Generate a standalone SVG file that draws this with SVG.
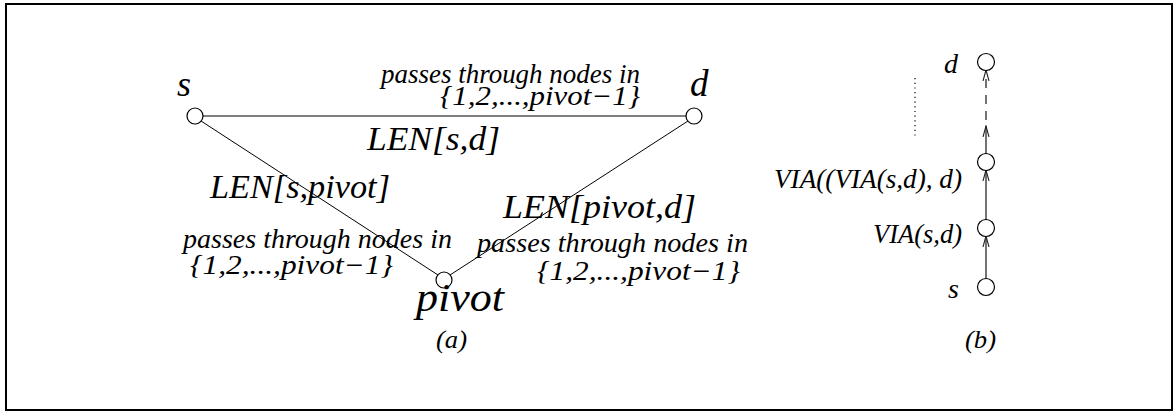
<svg xmlns="http://www.w3.org/2000/svg" width="1173" height="411" viewBox="0 0 1173 411">
<defs>
<style>
.n{fill:#fff;stroke:#000;stroke-width:1.2}
.e{stroke:#000;stroke-width:1;fill:none}
.a{stroke:#444;stroke-width:1.5;fill:none}
</style>
<marker id="arr" markerWidth="12" markerHeight="8" refX="11" refY="4" orient="auto" markerUnits="userSpaceOnUse">
<path d="M0,1 L11,4 L0,7" fill="none" stroke="#222" stroke-width="1.1"/>
</marker>
</defs>
<rect x="6" y="4" width="1166" height="406" fill="#fff" stroke="#000" stroke-width="2"/>
<g id="connectors">
<line class="e" x1="203" y1="116" x2="686" y2="116"/>
<line class="e" x1="201" y1="121" x2="438" y2="275"/>
<line class="e" x1="688" y1="121" x2="450" y2="275"/>
<line class="a" x1="986" y1="279" x2="986" y2="236" marker-end="url(#arr)"/>
<line class="a" x1="986" y1="220" x2="986" y2="170" marker-end="url(#arr)"/>
<line class="a" x1="986" y1="154" x2="986" y2="126" marker-end="url(#arr)"/>
<line class="a" x1="986" y1="120" x2="986" y2="70" stroke-dasharray="9,7" marker-end="url(#arr)"/>
<line x1="915" y1="78" x2="915" y2="138" stroke="#000" stroke-width="1.2" stroke-dasharray="1.2,3.5"/>
</g>
<g font-family="Liberation Serif" font-style="italic" fill="#000">
<g id="node-s">
<circle class="n" cx="195" cy="116" r="8"/>
<text x="177" y="96" font-size="36">s</text>
</g>
<g id="node-d">
<circle class="n" cx="694" cy="116" r="8"/>
<text x="690" y="96" font-size="37">d</text>
</g>
<g id="node-pivot">
<circle class="n" cx="444" cy="280" r="8"/>
<text x="416" y="311" font-size="40" textLength="88" lengthAdjust="spacingAndGlyphs">pivot</text>
</g>
<g id="labels-a">
<text x="381" y="83" font-size="27" textLength="259" lengthAdjust="spacingAndGlyphs">passes through nodes in</text>
<text x="440" y="105" font-size="27" textLength="200" lengthAdjust="spacingAndGlyphs">{1,2,...,pivot−1}</text>
<text x="367" y="150" font-size="34" textLength="133" lengthAdjust="spacingAndGlyphs">LEN[s,d]</text>
<text x="210" y="198" font-size="34" textLength="180" lengthAdjust="spacingAndGlyphs">LEN[s,pivot]</text>
<text x="503" y="218" font-size="34" textLength="193" lengthAdjust="spacingAndGlyphs">LEN[pivot,d]</text>
<text x="183" y="248" font-size="27" textLength="269" lengthAdjust="spacingAndGlyphs">passes through nodes in</text>
<text x="190" y="274" font-size="27" textLength="203" lengthAdjust="spacingAndGlyphs">{1,2,...,pivot−1}</text>
<text x="477" y="252" font-size="27" textLength="271" lengthAdjust="spacingAndGlyphs">passes through nodes in</text>
<text x="537" y="280" font-size="27" textLength="203" lengthAdjust="spacingAndGlyphs">{1,2,...,pivot−1}</text>
<text x="436" y="348" font-size="26" textLength="31" lengthAdjust="spacingAndGlyphs">(a)</text>
</g>
<g id="node-b-d">
<circle class="n" cx="986" cy="62" r="8.5"/>
<text x="944" y="73" font-size="28">d</text>
</g>
<g id="node-b-via2">
<circle class="n" cx="986" cy="162" r="8.5"/>
<text x="774" y="188" font-size="27" textLength="188" lengthAdjust="spacingAndGlyphs">VIA((VIA(s,d), d)</text>
</g>
<g id="node-b-via1">
<circle class="n" cx="986" cy="228" r="8.5"/>
<text x="873" y="243" font-size="27" textLength="89" lengthAdjust="spacingAndGlyphs">VIA(s,d)</text>
</g>
<g id="node-b-s">
<circle class="n" cx="986" cy="287" r="8.5"/>
<text x="948" y="298" font-size="28">s</text>
</g>
<text x="965" y="348" font-size="26" textLength="31" lengthAdjust="spacingAndGlyphs">(b)</text>
</g>
</svg>
